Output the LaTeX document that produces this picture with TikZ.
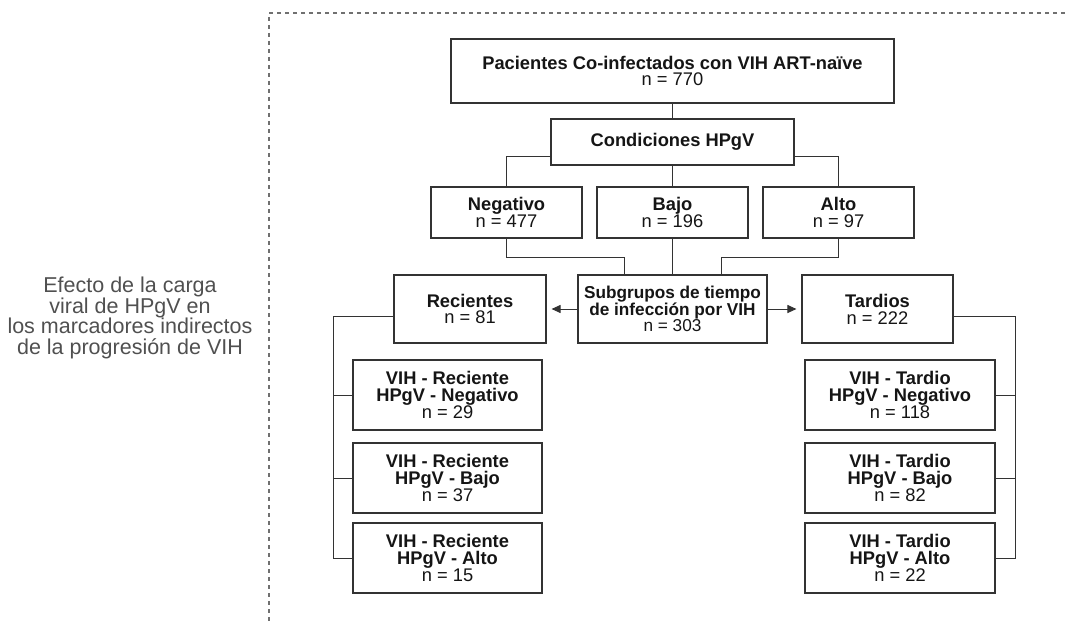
\documentclass[tikz,border=0pt]{standalone}
\usepackage{fontspec}
\setmainfont{Liberation Sans}
\usetikzlibrary{arrows.meta}
\definecolor{ln}{HTML}{333333}
\definecolor{dashc}{HTML}{707070}
\definecolor{side}{HTML}{505050}
\definecolor{txt}{HTML}{151515}
\begin{document}
\begin{tikzpicture}[x=1pt,y=-1pt,
 box/.style={draw=ln,line width=1.1pt,fill=white,rectangle,inner sep=0pt,align=center,
   font=\fontsize{18.3}{16.8}\selectfont,text=txt},
 conn/.style={draw=ln,line width=1pt},
 arr/.style={conn,-{Triangle[length=9pt,width=8pt]},shorten >=5pt},
 border/.style={draw=dashc,line width=1.3pt,dash pattern=on 4pt off 4pt}]
\useasboundingbox (0,0) rectangle (1065,621);
% dashed frame
\coordinate (dr) at (1065,13);
\coordinate (dc) at (269,13);
\coordinate (db) at (269,621);
\draw[border] (dr) -- (dc) -- (db);
% side label
\node[text=side,align=center,font=\fontsize{21.5}{20.8}\selectfont] (lbl) at (130,318)
  {Efecto de la carga\\viral de HPgV en\\los marcadores indirectos\\de la progresión de VIH};
% boxes
\node[box,minimum width=443pt,minimum height=64pt] (top) at (672.5,71)
  {\textbf{Pacientes Co-infectados con VIH ART-naïve}\\n = 770};
\node[box,minimum width=243pt,minimum height=46pt] (cond) at (672.5,142)
  {\textbf{Condiciones HPgV}};
\node[box,minimum width=151pt,minimum height=51pt] (neg) at (506.5,212.5)
  {\textbf{Negativo}\\n = 477};
\node[box,minimum width=151pt,minimum height=51pt] (bajo) at (672.5,212.5)
  {\textbf{Bajo}\\n = 196};
\node[box,minimum width=151pt,minimum height=51pt] (alto) at (838.5,212.5)
  {\textbf{Alto}\\n = 97};
\node[box,minimum width=189pt,minimum height=68pt,font=\fontsize{17.2}{16}\selectfont] (sub) at (672.5,309)
  {\textbf{Subgrupos de tiempo}\\\textbf{de infección por VIH}\\n = 303};
\node[box,minimum width=152pt,minimum height=68pt] (rec) at (470,309)
  {\textbf{Recientes}\\n = 81};
\node[box,minimum width=151pt,minimum height=68pt] (tar) at (877.5,309)
  {\textbf{Tardios}\\n = 222};
\node[box,minimum width=189pt,minimum height=70pt] (r1) at (447.5,395)
  {\textbf{VIH - Reciente}\\\textbf{HPgV - Negativo}\\n = 29};
\node[box,minimum width=189pt,minimum height=70pt] (r2) at (447.5,478)
  {\textbf{VIH - Reciente}\\\textbf{HPgV - Bajo}\\n = 37};
\node[box,minimum width=189pt,minimum height=70pt] (r3) at (447.5,558)
  {\textbf{VIH - Reciente}\\\textbf{HPgV - Alto}\\n = 15};
\node[box,minimum width=190pt,minimum height=70pt] (t1) at (900,395)
  {\textbf{VIH - Tardio}\\\textbf{HPgV - Negativo}\\n = 118};
\node[box,minimum width=190pt,minimum height=70pt] (t2) at (900,478)
  {\textbf{VIH - Tardio}\\\textbf{HPgV - Bajo}\\n = 82};
\node[box,minimum width=190pt,minimum height=70pt] (t3) at (900,558)
  {\textbf{VIH - Tardio}\\\textbf{HPgV - Alto}\\n = 22};
% connectors
\draw[conn] (top.south) -- (cond.north);
\draw[conn] ([yshift=-14pt]cond.west) -| (neg.north);
\draw[conn] ([yshift=-14pt]cond.east) -| (alto.north);
\draw[conn] (cond.south) -- (bajo.north);
\draw[conn] (neg.south) |- ([xshift=-48.5pt,yshift=17pt]sub.north) -- ([xshift=-48.5pt]sub.north);
\draw[conn] (bajo.south) -- (sub.north);
\draw[conn] (alto.south) |- ([xshift=48.5pt,yshift=17pt]sub.north) -- ([xshift=48.5pt]sub.north);
\draw[arr] (sub.west) -- (rec.east);
\draw[arr] (sub.east) -- (tar.west);
\coordinate (lb) at (333,316);
\coordinate (rb) at (1015,316);
\draw[conn] ([yshift=-7pt]rec.west) -- (lb) |- (r3.west);
\draw[conn] (lb |- r1.west) -- (r1.west);
\draw[conn] (lb |- r2.west) -- (r2.west);
\draw[conn] ([yshift=-7pt]tar.east) -- (rb) |- (t3.east);
\draw[conn] (rb |- t1.east) -- (t1.east);
\draw[conn] (rb |- t2.east) -- (t2.east);
\end{tikzpicture}
\end{document}
